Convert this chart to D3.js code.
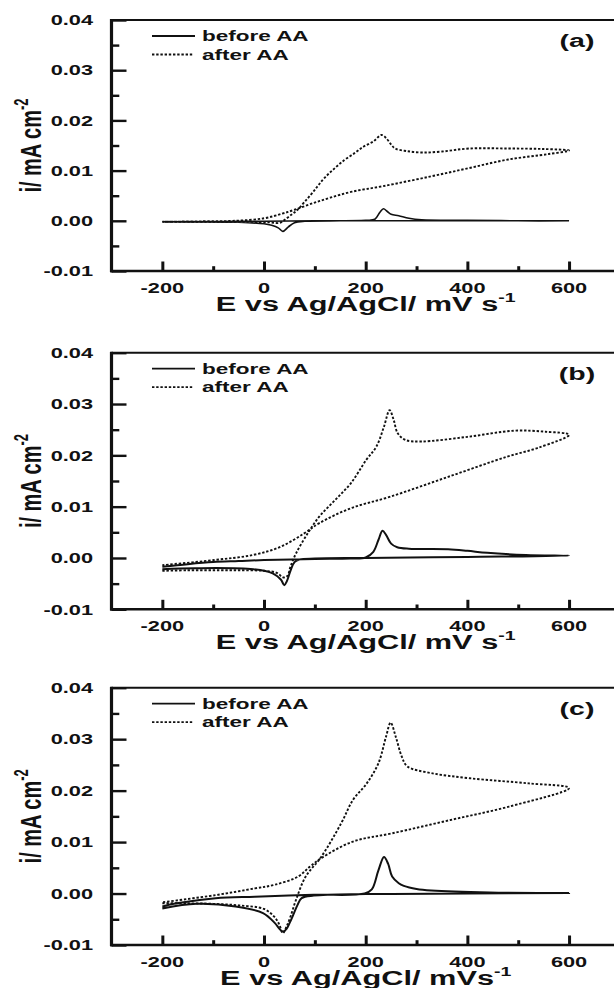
<!DOCTYPE html>
<html>
<head>
<meta charset="utf-8">
<script src="https://cdn.jsdelivr.net/npm/d3@7"></script>
<style>
  body { margin: 0; background: #fff; }
  svg { display: block; }
  text { font-family: "Liberation Sans", Arial, sans-serif; font-weight: bold; fill: #111; }
</style>
</head>
<body>
<svg id="chart" width="614" height="988"></svg>
<script>
// ---------- data ----------
const xTicks = [-200, 0, 200, 400, 600];
const xMinorTicks = [-100, 100, 300, 500];
const yTicks = [-0.01, 0.00, 0.01, 0.02, 0.03, 0.04];
const yMinorTicks = [-0.005, 0.005, 0.015, 0.025, 0.035];
const yTickLabels = ["-0.01", "0.00", "0.01", "0.02", "0.03", "0.04"];
const seriesNames = ["before AA", "after AA"];
const panelLabels = ["(a)", "(b)", "(c)"];
const xTitles = ["E vs Ag/AgCl/ mV s", "E vs Ag/AgCl/ mV s", "E vs Ag/AgCl/ mVs"];

// panel (a)  [E (mV), i (mA cm-2)]
const aBefore = [[-200,-0.0002],[-100,-0.0002],[0,-0.0001],[100,0],[200,0.0001],[218,0.0003],[228,0.0017],[235,0.0024],[242,0.0019],[250,0.0013],[265,0.001],[285,0.0005],[310,0.0002],[400,0.0001],[500,0],[600,0],
  [500,0],[300,0],[150,0],[80,-0.0001],[60,-0.0004],[48,-0.0012],[37,-0.0021],[28,-0.0014],[15,-0.0009],[0,-0.0006],[-50,-0.0003],[-120,-0.0002],[-200,-0.0002]];
const aAfter = [[-200,-0.0002],[-100,-0.0002],[-30,-0.0002],[10,-0.0003],[31,-0.0004],[43,0.0004],[55,0.0013],[66,0.0022],[80,0.0038],[97,0.0058],[115,0.0081],[135,0.0101],[158,0.0121],[180,0.0136],[196,0.0148],[215,0.0158],[231,0.0171],[240,0.0165],[250,0.0152],[258,0.0144],[280,0.0139],[311,0.0136],[350,0.0138],[403,0.0144],[480,0.0144],[550,0.0143],[600,0.014],
  [560,0.0133],[480,0.0122],[403,0.0105],[326,0.0088],[234,0.0069],[173,0.0058],[130,0.0046],[96,0.0035],[60,0.0022],[35,0.0014],[0,0.0005],[-57,0],[-120,-0.0001],[-200,-0.0002]];

// panel (b)
const bBefore = [[-200,-0.0017],[-150,-0.0012],[-100,-0.0008],[-50,-0.0006],[0,-0.0004],[100,-0.0002],[170,-0.0001],[200,0.0001],[215,0.0012],[225,0.0035],[233,0.0053],[240,0.0045],[250,0.0028],[262,0.0021],[285,0.0018],[362,0.0017],[400,0.0014],[439,0.001],[515,0.0006],[600,0.00045],
  [400,0.0002],[200,0],[100,-0.0001],[70,-0.0003],[60,-0.0008],[52,-0.0025],[45,-0.0045],[40,-0.0053],[33,-0.0042],[17,-0.003],[-21,-0.0022],[-136,-0.002],[-200,-0.0022]];
const bAfter = [[-200,-0.0025],[-150,-0.0024],[-100,-0.0024],[-50,-0.0024],[0,-0.0025],[25,-0.0029],[38,-0.0038],[46,-0.0035],[52,-0.0017],[63,0.0009],[86,0.0048],[109,0.0081],[140,0.0113],[171,0.0146],[201,0.0191],[221,0.0217],[236,0.0256],[247,0.0288],[255,0.0269],[263,0.0243],[278,0.023],[309,0.0227],[400,0.0236],[492,0.0248],[554,0.0246],[600,0.024],
  [540,0.0215],[477,0.0197],[362,0.0158],[247,0.0119],[171,0.0097],[109,0.0068],[79,0.0048],[33,0.0022],[-21,0.0006],[-98,-0.0004],[-200,-0.0014]];

// panel (c)
const cBefore = [[-200,-0.0025],[-172,-0.0019],[-95,-0.0009],[-18,-0.0006],[98,-0.00025],[198,0],[212,0.0008],[225,0.0045],[236,0.0071],[244,0.0058],[252,0.0033],[265,0.002],[275,0.0015],[300,0.0009],[329,0.0006],[444,0.0002],[600,0.0001],
  [400,0],[200,-0.0001],[98,-0.0004],[74,-0.0009],[66,-0.0022],[59,-0.0038],[50,-0.0058],[44,-0.0069],[37,-0.0074],[30,-0.0068],[21,-0.0057],[-2,-0.0038],[-56,-0.0025],[-133,-0.002],[-200,-0.0029]];
const cAfter = [[-200,-0.0019],[-150,-0.0019],[-100,-0.002],[-50,-0.0023],[0,-0.003],[20,-0.0045],[30,-0.006],[37,-0.0077],[44,-0.0065],[52,-0.0045],[63,-0.0012],[82,0.0033],[113,0.0072],[152,0.0137],[175,0.0182],[202,0.0214],[225,0.0253],[240,0.0305],[249,0.0332],[259,0.0305],[271,0.0266],[282,0.0247],[329,0.0234],[405,0.0224],[521,0.0214],[600,0.0205],
  [482,0.0169],[367,0.0143],[252,0.0117],[175,0.0101],[113,0.0069],[90,0.0052],[67,0.0033],[21,0.0017],[-18,0.001],[-95,-0.0003],[-200,-0.0017]];

const beforeSeries = [aBefore, bBefore, cBefore];
const afterSeries = [aAfter, bAfter, cAfter];

// ---------- layout ----------
const SX = 1.5;              // horizontal stretch of the original figure
const panelTops = [20, 352.7, 687.7];
const panelBottoms = [271, 609.3, 945];
const plotLeft = 111.5, plotRight = 619.9;
const DOTS = "2.4,1.8";

const svg = d3.select("#chart");
svg.append("rect").attr("width", 614).attr("height", 988).attr("fill", "#fff");

const x = d3.scaleLinear().domain([-300, 700]).range([plotLeft, plotRight]);

panelLabels.forEach((lab, p) => {
  const T = panelTops[p], B = panelBottoms[p];
  const y = d3.scaleLinear().domain([-0.01, 0.04]).range([B, T]);
  const g = svg.append("g");

  const line = d3.line().x(d => x(d[0])).y(d => y(d[1])).curve(d3.curveCatmullRom.alpha(0.5));

  // curves
  g.append("path").datum(afterSeries[p]).attr("d", line)
    .attr("fill", "none").attr("stroke", "#111").attr("stroke-width", 1.9)
    .attr("stroke-dasharray", DOTS);
  g.append("path").datum(beforeSeries[p]).attr("d", line)
    .attr("fill", "none").attr("stroke", "#111").attr("stroke-width", p === 0 ? 1.6 : 2);

  // axes ticks (inward)
  const bottomAxis = d3.axisBottom(x).tickValues(xTicks).tickSize(-9.5).tickFormat("");
  const bottomMinor = d3.axisBottom(x).tickValues(xMinorTicks).tickSize(-4.8).tickFormat("");
  const leftAxis = d3.axisLeft(y).tickValues(yTicks).tickSize(-15).tickFormat("");
  const leftMinor = d3.axisLeft(y).tickValues(yMinorTicks).tickSize(-7.8).tickFormat("");
  [[bottomAxis, `translate(0,${B})`, 3], [bottomMinor, `translate(0,${B})`, 3],
   [leftAxis, `translate(${plotLeft},0)`, 2.4], [leftMinor, `translate(${plotLeft},0)`, 2.4]].forEach(([ax, tr, w]) => {
    const ag = g.append("g").attr("transform", tr).call(ax);
    ag.select(".domain").remove();
    ag.selectAll(".tick line").attr("stroke", "#111").attr("stroke-width", w);
  });

  // frame
  g.append("line").attr("x1", plotLeft).attr("x2", plotRight).attr("y1", T).attr("y2", T)
    .attr("stroke", "#111").attr("stroke-width", 2);
  g.append("line").attr("x1", plotLeft - 1.5).attr("x2", plotRight).attr("y1", B).attr("y2", B)
    .attr("stroke", "#111").attr("stroke-width", 2.6);
  g.append("line").attr("x1", plotLeft).attr("x2", plotLeft).attr("y1", T - 1).attr("y2", B + 1.3)
    .attr("stroke", "#111").attr("stroke-width", 3.2);
  g.append("line").attr("x1", plotRight).attr("x2", plotRight).attr("y1", T).attr("y2", B)
    .attr("stroke", "#111").attr("stroke-width", 2.6);

  // y tick labels
  yTicks.forEach((v, i) => {
    g.append("text").attr("transform", `translate(93,${y(v)}) scale(${SX},1)`)
      .attr("text-anchor", "end").attr("dy", "0.36em").attr("font-size", 14.5)
      .text(yTickLabels[i]);
  });
  // x tick labels
  xTicks.forEach(v => {
    g.append("text").attr("transform", `translate(${x(v)},${B + 21.5}) scale(${SX},1)`)
      .attr("text-anchor", "middle").attr("font-size", 14.5).text(String(v));
  });

  // x title
  const xt = g.append("text").attr("transform", `translate(${(plotLeft + plotRight) / 2},${B + 39.5}) scale(${SX},1)`)
    .attr("text-anchor", "middle").attr("font-size", 20.5);
  xt.append("tspan").text(xTitles[p]);
  xt.append("tspan").attr("font-size", 13).attr("dy", -9).text("-1");

  // y title
  const yt = g.append("text").attr("transform", `translate(41,${(T + B) / 2}) scale(${SX},1) rotate(-90)`)
    .attr("text-anchor", "middle").attr("font-size", 20);
  yt.append("tspan").text("i/ mA cm");
  yt.append("tspan").attr("font-size", 13).attr("dy", -9).text("-2");

  // legend
  const ly = [T + 16, T + 34.5];
  g.append("line").attr("x1", 152).attr("x2", 195).attr("y1", ly[0]).attr("y2", ly[0])
    .attr("stroke", "#111").attr("stroke-width", 1.8);
  g.append("line").attr("x1", 152).attr("x2", 194).attr("y1", ly[1]).attr("y2", ly[1])
    .attr("stroke", "#111").attr("stroke-width", 1.8).attr("stroke-dasharray", DOTS);
  seriesNames.forEach((s, i) => {
    g.append("text").attr("transform", `translate(202,${ly[i] + 5}) scale(${SX},1)`)
      .attr("font-size", 15).text(s);
  });

  // panel label
  g.append("text").attr("transform", `translate(577,${T + 27}) scale(${SX},1)`)
    .attr("text-anchor", "middle").attr("font-size", 19).text(lab);
});
</script>
</body>
</html>
